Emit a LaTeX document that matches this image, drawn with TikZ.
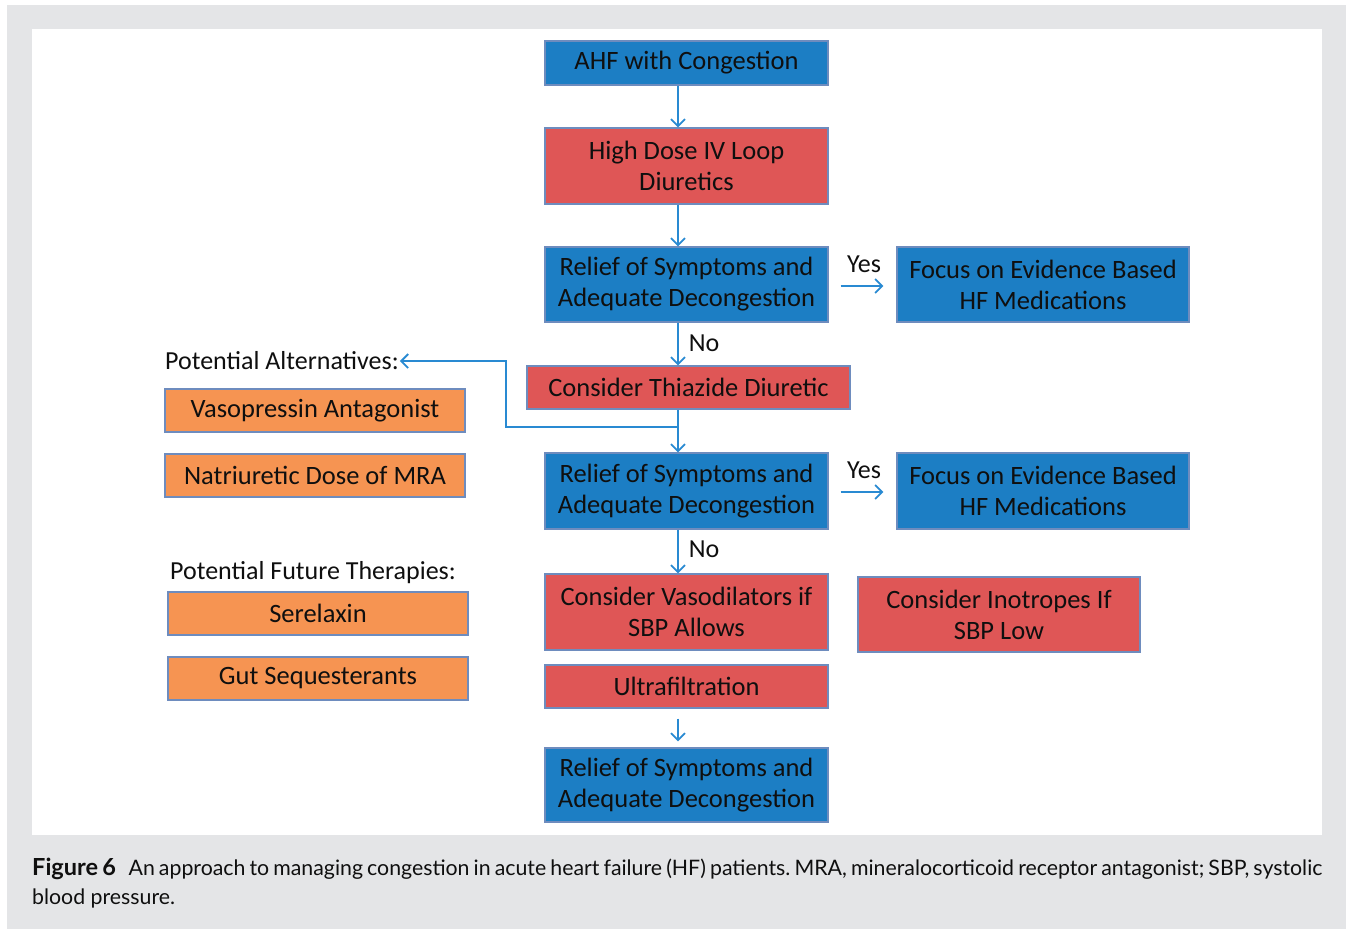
\documentclass[tikz,border=0pt]{standalone}
\usepackage{fontspec}
\setmainfont{Carlito}
\newfontfamily\capfont{Lato}
\usetikzlibrary{arrows.meta,positioning}
\definecolor{bggray}{RGB}{228,229,231}
\definecolor{bblue}{RGB}{28,126,196}
\definecolor{bred}{RGB}{223,86,86}
\definecolor{borange}{RGB}{246,148,82}
\definecolor{bline}{RGB}{110,140,190}
\definecolor{arrblue}{RGB}{41,138,210}
\definecolor{txt}{RGB}{15,15,15}
\tikzset{
  box/.style={draw=bline, line width=1.2pt, minimum width=283pt, inner sep=0pt, align=center, text=txt,
    font=\fontsize{26.5}{31}\selectfont},
  bluebox/.style={box, fill=bblue},
  redbox/.style={box, fill=bred},
  orabox/.style={box, fill=borange, minimum width=300pt, minimum height=43pt},
  lbl/.style={text=txt, inner sep=0pt, font=\fontsize{26}{30}\selectfont},
  arr/.style={draw=arrblue, line width=1.8pt, -{Straight Barb[length=7pt,width=14pt,line width=1.8pt]}}
}
\begin{document}
\begin{tikzpicture}[x=1pt,y=-1pt]
\useasboundingbox (0,0) rectangle (1346,929);
\fill[bggray] (7,5) rectangle (1346,929);
\fill[white] (32,29) rectangle (1322,835);
% central column
\node[bluebox, minimum height=44pt] (ahf) at (686.5,63) {AHF with Congestion};
\node[redbox, minimum height=76pt] (hd) at (686.5,166) {High Dose IV Loop\\Diuretics};
\node[bluebox, minimum height=75pt] (r1) at (686.5,284.5) {Relief of Symptoms and\\Adequate Decongestion};
\node[bluebox, minimum height=75pt, minimum width=292pt] (f1) at (1043,284.5) {Focus on Evidence Based\\HF Medications};
\node[redbox, minimum height=43pt, minimum width=323pt] (th) at (688.5,387.5) {Consider Thiazide Diuretic};
\node[bluebox, minimum height=76pt] (r2) at (686.5,491) {Relief of Symptoms and\\Adequate Decongestion};
\node[bluebox, minimum height=76pt, minimum width=292pt] (f2) at (1043,491) {Focus on Evidence Based\\HF Medications};
\node[redbox, minimum height=76pt] (vd) at (686.5,612) {Consider Vasodilators if\\SBP Allows};
\node[redbox, minimum height=75pt, minimum width=282pt] (ino) at (999,614.5) {Consider Inotropes If\\SBP Low};
\node[redbox, minimum height=43pt] (uf) at (686.5,686.5) {Ultrafiltration};
\node[bluebox, minimum height=74pt] (r3) at (686.5,785) {Relief of Symptoms and\\Adequate Decongestion};
% left column
\node[lbl, anchor=west] (pa) at (165,361) {Potential Alternatives:};
\node[orabox] (vp) at (315,410.5) {Vasopressin Antagonist};
\node[orabox] (na) at (315,475.5) {Natriuretic Dose of MRA};
\node[lbl, anchor=west] (pf) at (170,573) {Potential Future Therapies:};
\node[orabox] (sr) at (318,613.5) {Serelaxin};
\node[orabox] (gs) at (318,678.5) {Gut Sequesterants};
% labels
\node[lbl] (yes1) at (864,264) {Yes};
\node[lbl] (yes2) at (864,470) {Yes};
\node[lbl] (no1) at (704,343) {No};
\node[lbl] (no2) at (704,549) {No};
% connectors
\draw[arr] ([xshift=-8.5pt]ahf.south) -- ([xshift=-8.5pt]hd.north);
\draw[arr] ([xshift=-8.5pt]hd.south) -- ([xshift=-8.5pt]r1.north);
\draw[arr] ([xshift=12pt,yshift=-1.5pt]r1.east) -- ([xshift=-13pt,yshift=-1.5pt]f1.west);
\draw[arr] ([xshift=-8.5pt]r1.south) -- ([xshift=-10.5pt]th.north);
\draw[arr] ([xshift=-10.5pt]th.south) -- ([xshift=-8.5pt]r2.north);
\coordinate (br) at ([xshift=-10.5pt,yshift=-17pt]th.south);
\draw[arr] (br) -- ++(-172,0) |- ([xshift=1pt]pa.east);
\draw[arr] ([xshift=12pt,yshift=-1pt]r2.east) -- ([xshift=-13pt,yshift=-1pt]f2.west);
\draw[arr] ([xshift=-8.5pt]r2.south) -- ([xshift=-8.5pt]vd.north);
\draw[arr, shorten <=10pt, shorten >=6pt] ([xshift=-8.5pt]uf.south) -- ([xshift=-8.5pt]r3.north);
% caption
\node[anchor=north west, inner sep=0pt, text width=1290pt, align=justify, text=txt,
  font=\capfont\frenchspacing\fontsize{21.3}{29}\selectfont] (cap) at (32,858)
  {{\fontsize{23.5}{29}\selectfont\textbf{Figure 6}}\hspace{0.4em} An approach to managing congestion in acute heart failure (HF) patients. MRA, mineralocorticoid receptor antagonist; SBP, systolic\linebreak blood pressure.};
\end{tikzpicture}
\end{document}
